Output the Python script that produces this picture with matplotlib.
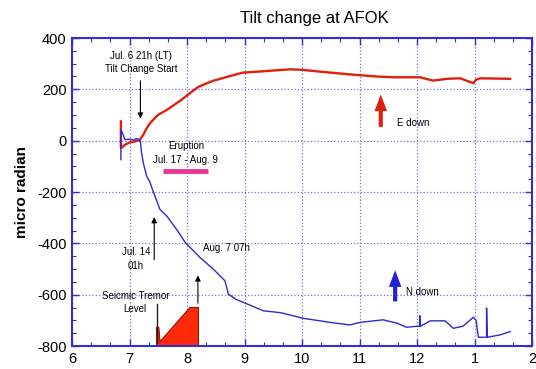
import numpy as np
import matplotlib.pyplot as plt
from matplotlib.ticker import MultipleLocator

plt.rcParams['font.family'] = ['Liberation Sans', 'DejaVu Sans']
plt.rcParams['axes.unicode_minus'] = False

# month axis: 6..12 then 1, 2 of the next year (plotted as 13, 14)
month_ticks = [6, 7, 8, 9, 10, 11, 12, 13, 14]
month_labels = ['6', '7', '8', '9', '10', '11', '12', '1', '2']

# E component (red)
e_x = [6.85, 6.85, 6.86, 6.92, 7.01, 7.10, 7.15, 7.18, 7.24, 7.30, 7.36, 7.45, 7.50,
       7.65, 7.88, 8.05, 8.2, 8.45, 8.75, 8.97, 9.3, 9.8, 10.0, 10.45, 10.95, 11.3,
       11.6, 12.05, 12.28, 12.52, 12.75, 12.98, 13.03, 13.1, 13.62]
e_y = [75, -27, -28, -16, -6, -3, 1, 4, 23, 49, 69, 90, 101,
       120, 155, 185, 210, 233, 252, 265, 270, 278, 276, 266, 256, 250,
       247, 247, 234, 241, 243, 224, 238, 243, 241]

# N component (blue)
n_x = [6.85, 6.85, 6.89, 6.92, 7.01, 7.07, 7.12, 7.17, 7.19, 7.21, 7.24, 7.30, 7.36,
       7.41, 7.53, 7.65, 7.82, 7.97, 8.23, 8.46, 8.66, 8.72, 8.85, 8.98, 9.33, 9.62,
       10.02, 10.49, 10.83, 11.01, 11.41, 11.65, 11.82, 12.0, 12.05, 12.05, 12.06,
       12.23, 12.49, 12.63, 12.8, 12.98, 13.03, 13.05, 13.07, 13.21, 13.21, 13.22,
       13.44, 13.62]
n_y = [-74, 43, 23, 4, 6, 2, 8, 4, -3, -48, -87, -139, -164,
       -197, -268, -294, -346, -397, -456, -501, -546, -598, -618, -630, -663, -670,
       -692, -708, -718, -708, -698, -711, -727, -723, -723, -682, -723,
       -702, -702, -731, -723, -688, -700, -740, -766, -766, -652, -766,
       -757, -744]

# seismic tremor level (relative, drawn from the bottom of the plot)
tremor_x = [7.47, 7.47, 7.51, 7.53, 8.05, 8.20, 8.20]
tremor_y = [-800, -727, -727, -783, -650, -650, -800]

eruption_start, eruption_end = 7.58, 8.37

fig = plt.figure(figsize=(5.36, 3.69), dpi=100)
ax = fig.add_axes([72 / 536, 23 / 369, 460 / 536, 308 / 369])

ax.plot(e_x, e_y, color='#e0200f', lw=1.7, zorder=3)
ax.plot(n_x, n_y, color='#2a2ad0', lw=1.0, zorder=3)

ax.fill(tremor_x, tremor_y, facecolor='#ff2a0a', edgecolor='#8a1a10', lw=0.8, zorder=2)
ax.plot([7.48, 7.48], [-637, -790], color='#202020', lw=1.0, zorder=3)

ax.plot([eruption_start, eruption_end], [-119, -119], color='#ee3399', lw=3.5,
        solid_capstyle='butt', zorder=3)
ax.text(7.98, -48, 'Eruption\nJul. 17 - Aug. 9', ha='center', va='center',
        fontsize=7, linespacing=1.4)

arr = dict(arrowstyle='-|>', color='black', lw=0.8, mutation_scale=8)
ax.annotate('', xy=(7.19, 75), xytext=(7.19, 244), arrowprops=arr)
ax.text(7.2, 305, 'Jul. 6 21h (LT)\nTilt Change Start', ha='center', va='center',
        fontsize=7, linespacing=1.4)

ax.annotate('', xy=(7.43, -287), xytext=(7.43, -475), arrowprops=arr)
ax.text(7.11, -462, 'Jul. 14\n01h', ha='center', va='center', fontsize=7,
        linespacing=1.5)

ax.annotate('', xy=(8.19, -514), xytext=(8.19, -644), arrowprops=arr)
ax.text(8.27, -417, 'Aug. 7 07h', ha='left', va='center', fontsize=7)

ax.text(7.1, -629, 'Seicmic Tremor\nLevel', ha='center', va='center', fontsize=7,
        linespacing=1.4)

big = dict(arrowstyle='simple,head_width=0.9,head_length=1.2,tail_width=0.3',
           lw=0)
ax.annotate('', xy=(11.37, 191), xytext=(11.37, 43),
            arrowprops=dict(big, color='#e0200f'))
ax.text(11.66, 69, 'E down', ha='left', va='center', fontsize=7)
ax.annotate('', xy=(11.62, -494), xytext=(11.62, -637),
            arrowprops=dict(big, color='#2020d8'))
ax.text(11.81, -591, 'N down', ha='left', va='center', fontsize=7)

ax.set_xlim(6, 14)
ax.set_ylim(-800, 400)
ax.set_xticks(month_ticks)
ax.set_xticklabels(month_labels)
ax.set_yticks([-800, -600, -400, -200, 0, 200, 400])
ax.xaxis.set_minor_locator(MultipleLocator(1 / 3))
ax.yaxis.set_minor_locator(MultipleLocator(50))
ax.grid(True, which='major', color='#7070e8', ls=':', lw=0.9)
ax.tick_params(which='both', direction='in', top=True, right=True, color='#3030d0',
               labelsize=10.5, pad=4)
ax.tick_params(which='major', length=5, width=1)
ax.tick_params(which='minor', length=3, width=0.8)
for s in ax.spines.values():
    s.set_color('#3030d0')
    s.set_linewidth(1.5)

ax.set_ylabel('micro radian', fontsize=11, fontweight='bold', labelpad=6)
fig.text(314 / 536, 1 - 19 / 369, 'Tilt change at AFOK', ha='center', va='center',
         fontsize=12)

fig.savefig('out.png', dpi=100)
